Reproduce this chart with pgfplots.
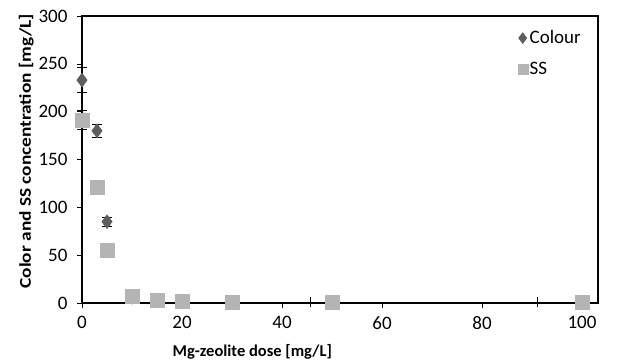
\documentclass[border=0pt]{standalone}
\usepackage{pgfplots}
\pgfplotsset{compat=1.18}
\usepackage{fontspec}
\setmainfont{Carlito}
\definecolor{cdark}{HTML}{5E5E5E}
\definecolor{clight}{HTML}{B4B4B4}
\begin{document}
\begin{tikzpicture}[x=1pt,y=1pt]
\useasboundingbox (-82,-59) rectangle (540,303);
\begin{axis}[
  at={(0,0)}, anchor=south west,
  width=516pt, height=287pt, scale only axis,
  xmin=0, xmax=103.2, ymin=0, ymax=300,
  xtick={0,20,40,60,80,100}, ytick={0,50,...,300},
  tick align=outside, tick pos=left,
  major tick length=5pt,
  axis line style={line width=1.6pt},
  every tick/.style={black, line width=0.6pt},
  tick label style={font=\fontsize{19}{21}\selectfont},
  /pgf/number format/assume math mode=true,
  xlabel={\bfseries Mg-zeolite dose [mg/L]},
  ylabel={\bfseries Color and SS concentration [mg/L]},
  label style={font=\fontsize{16.5}{18}\selectfont},
  xlabel style={at={(axis description cs:0.33,0)}, anchor=north, yshift=-38pt},
  ylabel style={xscale=1.17, yshift=-2pt, xshift=7pt},
  xticklabel style={yshift=-5pt},
  yticklabel style={xshift=-6pt},
  clip=false,
  legend style={draw=none, fill=none, at={(axis cs:86.5,289)}, anchor=north west,
    font=\fontsize{19}{21}\selectfont, row sep=13pt},
  legend cell align=left,
]
\addplot[only marks, mark=diamond*, mark size=7pt, color=cdark,
  legend image post style={mark size=5.5pt},
  error bars/.cd, y dir=both, y explicit, x dir=both, x explicit,
  error bar style={black, line width=0.8pt}, error mark options={rotate=90, mark size=5pt, black, line width=0.8pt}]
  coordinates {
  (0,233) +- (0,13)
  (3,180) +- (0,7)
  (5,85) +- (0.4,5)
  (10,6) +- (0,0)
  (15,3) +- (0,0)
  (20,2) +- (0,0)
  (30,1) += (1.2,0) -= (0,0)
  (50,1) += (0.3,0) -= (4.4,0)
  (100,1) += (0,0) -= (9,0)
  };
\addlegendentry{Colour}
\addplot[only marks, mark=square*, mark size=7pt, color=clight,
  legend image post style={mark size=5pt},
  error bars/.cd, y dir=both, y explicit,
  error bar style={black, line width=0.8pt}, error mark options={rotate=90, mark size=5pt, black, line width=0.8pt}]
  coordinates {
  (0,191) +- (0,10)
  (3,121) +- (0,0)
  (5,55) +- (0,0)
  (10,7) +- (0,0)
  (15,3) +- (0,0)
  (20,2) +- (0,0)
  (30,1) +- (0,0)
  (50,1) +- (0,0)
  (100,1) +- (0,0)
  };
\addlegendentry{SS}
\end{axis}
\end{tikzpicture}
\end{document}
